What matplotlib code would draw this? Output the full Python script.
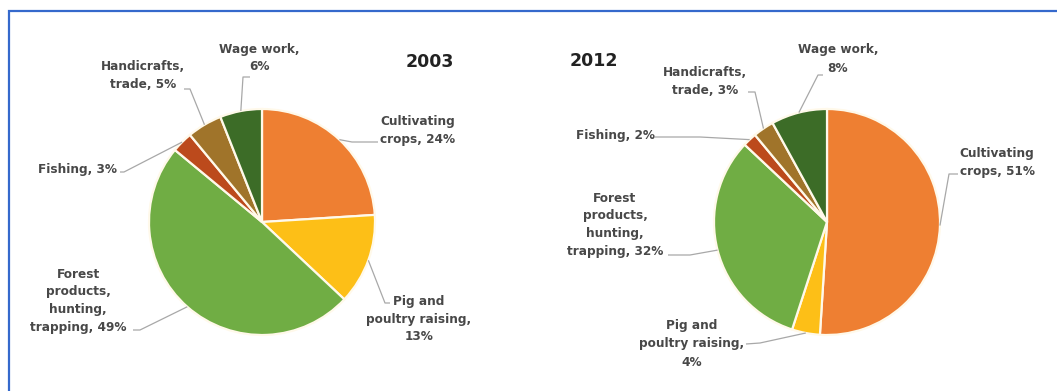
import numpy as np
import matplotlib
matplotlib.use('Agg')
import matplotlib.pyplot as plt

# ── Data ──────────────────────────────────────────────────────────────────────
CATEGORIES = ['Cultivating crops', 'Pig and poultry raising',
              'Forest products, hunting, trapping', 'Fishing',
              'Handicrafts, trade', 'Wage work']
LABEL_FMT = ['Cultivating\ncrops, {}%', 'Pig and\npoultry raising,\n{}%',
             'Forest\nproducts,\nhunting,\ntrapping, {}%', 'Fishing, {}%',
             'Handicrafts,\ntrade, {}%', 'Wage work,\n{}%']
SHARE_2003 = [24, 13, 49, 3, 5, 6]
SHARE_2012 = [51, 4, 32, 2, 3, 8]

COLORS = ['#EE7F32', '#FDBF17', '#70AD44', '#BC4A1C', '#A0742A', '#3C6C27']

# ── Layout (pixel units, y measured from the top) ─────────────────────────────
W, H = 1057, 391
RADIUS = 113
TEXT = '#484848'
LEADER = '#A8A8A8'

LAYOUT = {
    '2003': dict(
        center=(262, 222), title=(430, 62), values=SHARE_2003,
        labels=[(418, 131), (419, 319), (78, 301), (77, 169), (143, 75), (259, 58)],
        # elbow + tail of each leader line
        leaders=[((352, 142), (378, 142)), ((385, 303), (390, 303)),
                 ((140, 330), (133, 330)), ((124, 172), (120, 172)),
                 ((190, 89), (184, 89)), ((243, 77), (250, 77))],
    ),
    '2012': dict(
        center=(827, 222), title=(594, 61), values=SHARE_2012,
        labels=[(997, 162), (692, 344), (615, 225), (616, 135), (705, 81), (838, 59)],
        leaders=[((949, 174), (958, 174)), ((760, 343), (746, 344)),
                 ((690, 255), (668, 255)), ((700, 137), (655, 137)),
                 ((755, 92), (748, 92)), ((818, 75), (823, 75))],
    ),
}


def px(x, y):
    return x, H - y


fig = plt.figure(figsize=(W / 100, H / 100), dpi=100, facecolor='white')
ax = fig.add_axes([0, 0, 1, 1])
ax.set_facecolor('white')

for year, cfg in LAYOUT.items():
    cx, cy = px(*cfg['center'])
    wedges, _ = ax.pie(
        cfg['values'], colors=COLORS, startangle=90, counterclock=False,
        center=(cx, cy), radius=RADIUS, frame=True,
        wedgeprops=dict(edgecolor='#FFF9EA', linewidth=1.6),
    )

    for i, w in enumerate(wedges):
        mid = np.radians((w.theta1 + w.theta2) / 2)
        ex, ey = cx + RADIUS * np.cos(mid), cy + RADIUS * np.sin(mid)
        (bx, by), (tx, ty) = cfg['leaders'][i]
        bx, by = px(bx, by)
        tx, ty = px(tx, ty)
        ax.plot([ex, bx, tx], [ey, by, ty], color=LEADER, lw=0.9,
                solid_capstyle='butt', zorder=1)

        lx, ly = px(*cfg['labels'][i])
        ax.text(lx, ly, LABEL_FMT[i].format(cfg['values'][i]),
                ha='center', va='center', multialignment='center',
                fontsize=8.7, fontweight='bold', color=TEXT, linespacing=1.5,
                family='DejaVu Sans')

    ax.text(*px(*cfg['title']), year, ha='center', va='center',
            fontsize=12.5, fontweight='bold', color='#222222',
            family='DejaVu Sans')

# blue frame, cut off at the right and bottom edges
ax.plot([8.7, 8.7, W + 5], [-5, H - 10.5, H - 10.5], color='#3569CC',
        lw=1.6, solid_joinstyle='miter', zorder=5)

ax.set_xlim(0, W)
ax.set_ylim(0, H)
ax.set_aspect('equal')
ax.axis('off')

fig.savefig('out.png', dpi=100, facecolor='white')
